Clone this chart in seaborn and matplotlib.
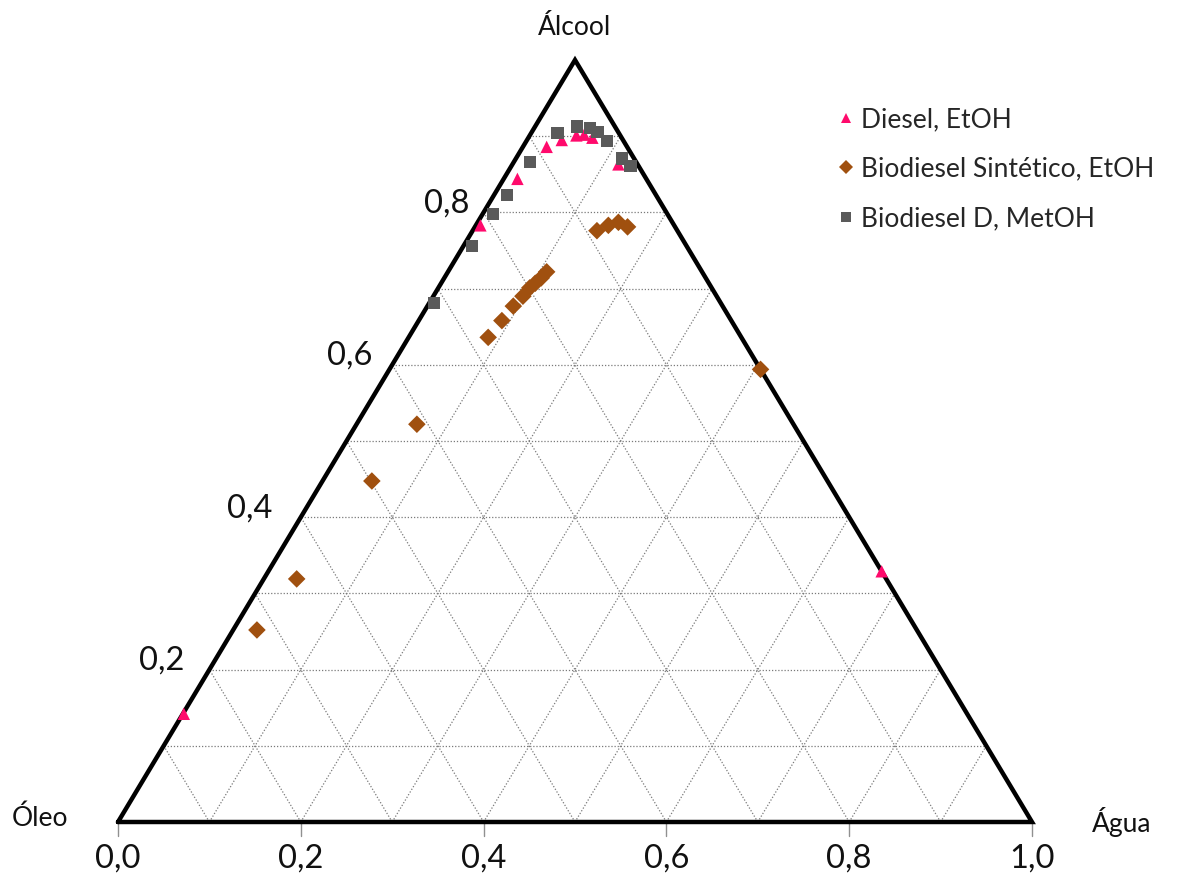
import numpy as np
import pandas as pd
import matplotlib
matplotlib.use("Agg")
import matplotlib.pyplot as plt
import seaborn as sns

# ---- data (mass fractions: water, alcohol; oil = 1 - water - alcohol) ----
diesel_agua = [0.001, 0.005, 0.015, 0.026, 0.038, 0.051, 0.059, 0.070, 0.116, 0.671]
diesel_alcool = [0.142, 0.783, 0.844, 0.886, 0.895, 0.901, 0.902, 0.898, 0.863, 0.329]

bio_sint_agua = [0.026, 0.036, 0.054, 0.066, 0.087, 0.091, 0.094, 0.098, 0.100,
                 0.103, 0.106, 0.108, 0.136, 0.145, 0.154, 0.167, 0.406]
bio_sint_alcool = [0.252, 0.319, 0.4475, 0.522, 0.636, 0.658, 0.677, 0.690, 0.701,
                   0.707, 0.714, 0.722, 0.776, 0.783, 0.787, 0.781, 0.594]

bio_d_agua = [0.005, 0.009, 0.011, 0.014, 0.018, 0.029, 0.046, 0.061, 0.072, 0.088, 0.116, 0.130]
bio_d_alcool = [0.681, 0.756, 0.798, 0.823, 0.866, 0.904, 0.913, 0.911, 0.9055, 0.894, 0.871, 0.861]

series_names = ["Diesel, EtOH", "Biodiesel Sintético, EtOH", "Biodiesel D, MetOH"]
series_colors = ["#FF0A6C", "#A0500F", "#5A5A5A"]
series_markers = ["^", "D", "s"]

bottom_ticks = [0.0, 0.2, 0.4, 0.6, 0.8, 1.0]
bottom_tick_labels = ["0,0", "0,2", "0,4", "0,6", "0,8", "1,0"]
left_ticks = [0.2, 0.4, 0.6, 0.8]
left_tick_labels = ["0,2", "0,4", "0,6", "0,8"]
vertex_labels = ["Óleo", "Água", "Álcool"]

# ---- build frame ----
rows = []
for name, ag, al in zip(series_names,
                        [diesel_agua, bio_sint_agua, bio_d_agua],
                        [diesel_alcool, bio_sint_alcool, bio_d_alcool]):
    for w, a in zip(ag, al):
        rows.append({"serie": name, "agua": w, "alcool": a})
df = pd.DataFrame(rows)
df["x"] = df["agua"] + df["alcool"] / 2.0
df["y"] = df["alcool"]

sns.set_style("white")
plt.rcParams["font.family"] = ["Lato", "DejaVu Sans"]

W, H = 1183, 888
fig = plt.figure(figsize=(W / 100, H / 100), dpi=100)
ax = fig.add_axes([0, 0, 1, 1])
# pixel mapping: x=0 -> 118px, x=1 -> 1032px ; y=0 -> 822px, y=1 -> 60px
x0p, x1p, y0p, y1p = 118, 1032, 822, 60
sx = (x1p - x0p)
sy = (y0p - y1p)
ax.set_xlim(-x0p / sx, (W - x0p) / sx)
ax.set_ylim((y0p - H) / sy, y0p / sy)
ax.axis("off")

# grid
gkw = dict(color="#7a7a7a", lw=0.9, ls=(0, (1, 1.5)), zorder=1)
for t in np.arange(0.1, 1.0, 0.1):
    ax.plot([t / 2, 1 - t / 2], [t, t], **gkw)
    ax.plot([t, t + (1 - t) / 2], [0, 1 - t], **gkw)
    ax.plot([1 - t, (1 - t) / 2], [0, 1 - t], **gkw)

# triangle
ax.plot([0, 1, 0.5, 0], [0, 0, 1, 0], color="black", lw=3.2, zorder=2,
        solid_joinstyle="miter")

# bottom ticks
for t, lab in zip(bottom_ticks, bottom_tick_labels):
    ax.plot([t, t], [0, -14 / sy], color="#909090", lw=1.0, zorder=1)
    ax.text(t, -37 / sy, lab, ha="center", va="center", fontsize=23.5, color="#111111")

# left labels
left_offsets = [-0.052, -0.056, -0.046, -0.040]
for t, lab, off in zip(left_ticks, left_tick_labels, left_offsets):
    ax.text(t / 2 + off, t + 0.012, lab, ha="center", va="center",
            fontsize=23.5, color="#111111")

# vertex labels
ax.text(-78 / sx, 4 / sy, vertex_labels[0], ha="center", va="center", fontsize=19, color="#111111")
ax.text(1 + 90 / sx, 0, vertex_labels[1], ha="center", va="center", fontsize=19, color="#111111")
ax.text(0.5, 1 + 33 / sy, vertex_labels[2], ha="center", va="center", fontsize=19, color="#111111")

# data
sns.scatterplot(data=df, x="x", y="y", hue="serie", style="serie",
                hue_order=series_names, style_order=series_names,
                palette=dict(zip(series_names, series_colors)),
                markers=dict(zip(series_names, series_markers)),
                s=80, linewidth=0, ax=ax, zorder=3)

handles, labels = ax.get_legend_handles_labels()
ax.legend(handles, labels, loc="upper left",
          bbox_to_anchor=(833 / W, 1 - 107 / H), bbox_transform=fig.transFigure,
          frameon=False, fontsize=19, handlelength=1.0, handletextpad=0.05,
          labelspacing=0.93, markerscale=0.75, borderaxespad=0, borderpad=0)

fig.savefig("out.png", dpi=100)
